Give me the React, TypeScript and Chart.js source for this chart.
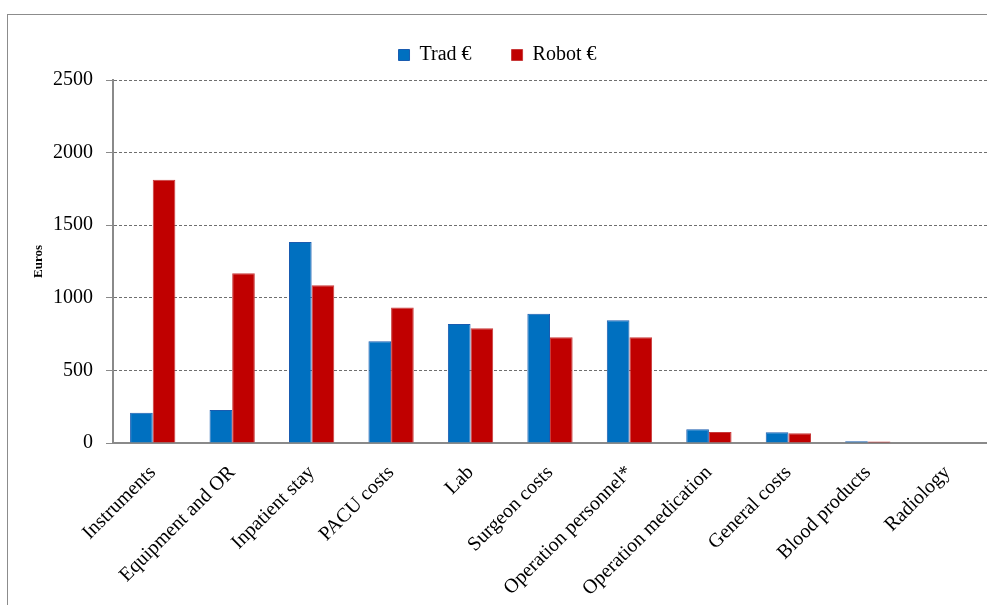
import React, { useEffect, useRef } from "react";
import { Chart, registerables } from "chart.js";

Chart.register(...registerables);

const categories = [
  "Instruments",
  "Equipment and OR",
  "Inpatient stay",
  "PACU costs",
  "Lab",
  "Surgeon costs",
  "Operation personnel*",
  "Operation medication",
  "General costs",
  "Blood products",
  "Radiology",
];
const tradValues = [209, 227, 1384, 700, 820, 891, 845, 94, 74, 12, 0];
const robotValues = [1813, 1169, 1086, 934, 790, 728, 728, 76, 67, 10, 0];
const yTicks = [0, 500, 1000, 1500, 2000, 2500];

const SERIF = "'Liberation Serif', 'Times New Roman', serif";

const legendSpacer = {
  id: "legendSpacer",
  beforeLayout(chart: any) {
    const lg = chart.legend;
    if (lg && !lg.__patched) {
      const orig = lg.fit.bind(lg);
      lg.fit = function () {
        orig();
        this.height += 5;
      };
      lg.__patched = true;
    }
  },
};

export default function App() {
  const ref = useRef<HTMLCanvasElement | null>(null);
  useEffect(() => {
    if (!ref.current) return;
    const chart = new Chart(ref.current, {
      type: "bar",
      data: {
        labels: categories,
        datasets: [
          {
            label: "Trad €",
            data: tradValues,
            backgroundColor: "#0070C0",
            borderColor: "#1a5cb0",
            borderWidth: 1,
          },
          {
            label: "Robot €",
            data: robotValues,
            backgroundColor: "#C00000",
            borderColor: "#c83a3a",
            borderWidth: 1,
          },
        ],
      },
      plugins: [legendSpacer],
      options: {
        responsive: false,
        animation: false,
        layout: { padding: { top: -3, left: 0, right: 0, bottom: 0 } },
        datasets: { bar: { categoryPercentage: 0.57, barPercentage: 1 } },
        plugins: {
          tooltip: { enabled: false },
          legend: {
            position: "top",
            labels: {
              boxWidth: 11,
              boxHeight: 11,
              padding: 40,
              color: "#000",
              font: { family: SERIF, size: 20 },
            },
          },
        },
        scales: {
          x: {
            grid: { display: false, drawTicks: false },
            border: { display: true, color: "#8a8a8a", width: 2 },
            ticks: {
              color: "#000",
              font: { family: SERIF, size: 20 },
              maxRotation: 45,
              minRotation: 45,
              autoSkip: false,
              padding: 18,
            },
            afterFit: (scale: any) => {
              scale.height = 154;
              scale.paddingRight = 0;
            },
          },
          y: {
            min: 0,
            max: 2500,
            afterBuildTicks: (scale: any) => {
              scale.ticks = yTicks.map((v) => ({ value: v }));
            },
            grid: {
              color: "#6f6f6f",
              lineWidth: 1,
              tickLength: 7,
              tickColor: "#8a8a8a",
              tickBorderDash: [],
              drawOnChartArea: true,
            },
            border: { display: true, color: "#8a8a8a", width: 2, dash: [3, 2] } as any,
            ticks: {
              color: "#000",
              font: { family: SERIF, size: 20 },
              padding: 13,
              callback: (v: any) => String(v),
            },
            title: {
              display: true,
              text: "Euros",
              color: "#000",
              font: { family: SERIF, size: 13, weight: "bold" },
              padding: { top: 23, bottom: 0 },
            },
            afterFit: (scale: any) => {
              scale.width = 105;
            },
          },
        },
      },
    });
    return () => chart.destroy();
  }, []);

  return (
    <div
      style={{
        position: "fixed",
        left: 0,
        top: 0,
        width: 987,
        height: 605,
        overflow: "hidden",
        background: "#fff",
      }}
    >
      <div
        style={{
          position: "absolute",
          left: 7,
          top: 14,
          width: 1100,
          height: 800,
          border: "1px solid #8c8c8c",
          boxSizing: "border-box",
        }}
      />
      <canvas
        ref={ref}
        width={979}
        height={589}
        style={{ position: "absolute", left: 8, top: 8, display: "block" }}
      />
    </div>
  );
}
